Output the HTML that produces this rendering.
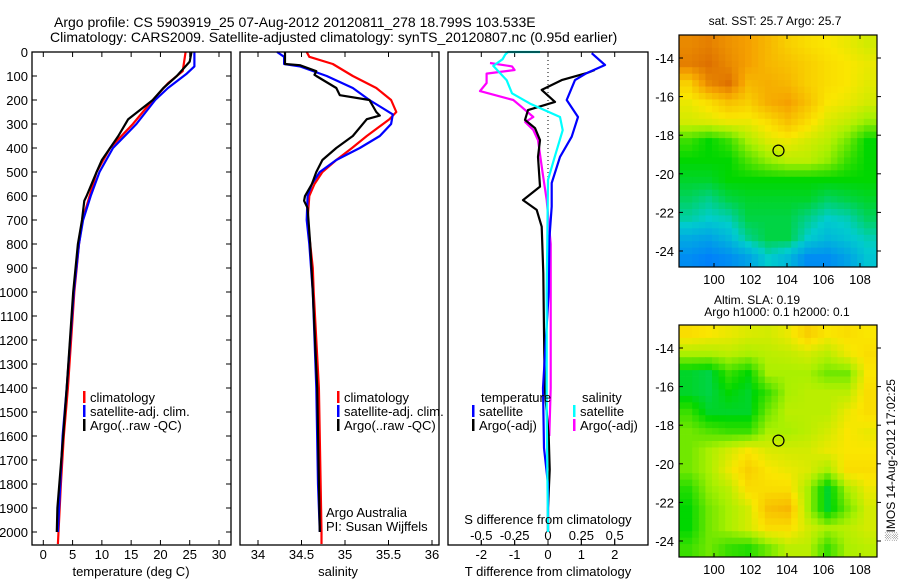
<!DOCTYPE html>
<html><head><meta charset="utf-8"><style>
html,body{margin:0;padding:0;background:#fff;}
svg{display:block;font-family:"Liberation Sans",sans-serif;}
</style></head><body>
<svg id="c" width="900" height="580" viewBox="0 0 900 580">
<text x="54" y="27" font-size="14">Argo profile: CS 5903919_25 07-Aug-2012 20120811_278 18.799S 103.533E</text>
<text x="50" y="42" font-size="14">Climatology: CARS2009. Satellite-adjusted climatology: synTS_20120807.nc (0.95d earlier)</text>
</svg>
<script>
// ---- data ----
const depthTicks=[0,100,200,300,400,500,600,700,800,900,1000,1100,1200,1300,1400,1500,1600,1700,1800,1900,2000];
const tempTicks=[0,5,10,15,20,25,30];
const salTicks=[34,34.5,35,35.5,36];
const dTTicks=[-2,-1,0,1,2];
const dSTicks=[-0.5,-0.25,0,0.25,0.5];
const dSTickLabels=["-0.5","-0.25","0","0.25","0.5"];
const tClimD=[0,80,130,200,300,400,500,600,700,800,900,1000,1400,1600,1800,2000,2050];
const tClimV=[24.3,23.8,21.3,18.7,15.3,11.4,9.1,7.9,6.7,6.1,5.7,5.3,4.2,3.5,3.0,2.6,2.5];
const tSatD=[0,60,90,150,200,300,400,500,600,700,800,1000,1400,1600,1800,2000];
const tSatV=[25.8,25.8,24.5,21.3,19.1,15.9,11.9,9.6,8.1,6.8,6.1,5.2,4.0,3.3,2.9,2.5];
const tArgD=[0,40,100,150,200,280,350,400,450,500,600,620,700,800,1000,1400,1600,1900,2000];
const tArgV=[25.3,25.0,22.8,20.5,18.7,14.5,12.8,11.4,10.0,9.1,7.4,7.0,6.6,5.9,5.1,4.0,3.4,2.4,2.3];
const sClimD=[0,20,50,100,150,200,250,280,350,400,450,500,550,600,700,900,1000,1400,2000,2050];
const sClimV=[34.56,34.59,34.86,35.09,35.36,35.53,35.59,35.51,35.25,35.08,34.90,34.74,34.65,34.59,34.57,34.63,34.64,34.70,34.73,34.73];
const sSatD=[0,20,50,60,100,150,200,260,300,350,400,450,500,550,600,700,800,1000,1400,1800,2000];
const sSatV=[34.22,34.30,34.30,34.48,34.79,35.09,35.28,35.55,35.53,35.40,35.17,34.90,34.71,34.62,34.57,34.56,34.59,34.63,34.67,34.69,34.71];
const sArgD=[0,50,55,80,95,100,150,180,200,250,265,280,350,400,450,500,550,600,620,650,800,1000,1400,2000];
const sArgV=[34.31,34.31,34.48,34.67,34.65,34.67,34.90,34.94,35.28,35.36,35.40,35.25,35.09,34.90,34.74,34.67,34.62,34.54,34.53,34.57,34.60,34.63,34.68,34.71];
const dTSatD=[5,54,88,117,200,271,353,437,546,644,783,1000,1400,1650,1800,2000];
const dTSatV=[1.31,1.71,1.16,0.81,0.56,0.90,0.71,0.36,0.11,0.11,0.04,0.02,-0.15,-0.12,0,0];
const dTArgD=[75,88,117,158,208,242,283,317,367,437,561,617,658,728,922,1400,1600,1740,1900,2000];
const dTArgV=[1.4,1.16,0.41,-0.19,0.21,-0.60,-0.69,-0.39,-0.24,-0.30,-0.24,-0.75,-0.34,-0.19,-0.14,-0.10,0.02,0.05,0,0];
const dSSatD=[0,0,10,30,58,117,172,215,271,326,437,533,1000,1500,2000];
const dSSatV=[-0.06,-0.30,-0.32,-0.34,-0.41,-0.31,-0.27,-0.135,0.09,0.11,0.05,0,-0.01,-0.01,0];
const dSArgD=[46,60,75,90,129,163,200,228,271,292,325,367,506,617,800,1000,1400,1600];
const dSArgV=[-0.435,-0.27,-0.25,-0.46,-0.46,-0.51,-0.26,-0.20,-0.11,-0.17,-0.11,-0.075,-0.04,-0.01,0.02,0.02,0.02,0.01];
const lons=[100,102,104,106,108];
const lats=[-14,-16,-18,-20,-22,-24];
const sstGrid=[
[.9,.92,.88,.85,.8,.75,.72,.7,.68,.65],
[.92,.95,.9,.85,.8,.78,.75,.72,.7,.68],
[.75,.9,.95,.8,.82,.8,.75,.72,.7,.67],
[.68,.72,.78,.75,.82,.85,.78,.7,.68,.65],
[.65,.66,.68,.68,.72,.78,.72,.66,.63,.58],
[.5,.45,.5,.6,.66,.68,.65,.62,.55,.45],
[.45,.45,.45,.52,.58,.62,.62,.58,.5,.45],
[.42,.42,.45,.45,.45,.45,.45,.45,.45,.45],
[.38,.35,.4,.42,.42,.42,.42,.38,.4,.42],
[.33,.3,.32,.4,.4,.4,.35,.3,.32,.38],
[.22,.2,.25,.35,.4,.4,.3,.25,.28,.32],
[.15,.12,.15,.2,.3,.25,.15,.15,.2,.28]];
const slaGrid=[
[.72,.7,.68,.66,.65,.68,.75,.7,.72,.7],
[.6,.6,.62,.6,.62,.63,.65,.62,.68,.72],
[.42,.4,.5,.45,.6,.6,.6,.55,.55,.7],
[.42,.4,.45,.42,.5,.6,.62,.62,.62,.72],
[.5,.42,.42,.42,.55,.62,.62,.62,.68,.72],
[.55,.52,.5,.5,.6,.6,.62,.65,.7,.68],
[.55,.6,.65,.7,.66,.65,.65,.68,.7,.7],
[.55,.6,.68,.75,.7,.68,.66,.6,.72,.72],
[.48,.58,.62,.72,.72,.72,.6,.42,.6,.68],
[.45,.55,.6,.65,.78,.8,.6,.42,.55,.65],
[.45,.55,.6,.65,.72,.72,.65,.6,.62,.65],
[.5,.55,.5,.48,.55,.62,.62,.5,.6,.62]];
const floatLon=103.533, floatLat=-18.799;

// ---- drawing ----
const svg=document.getElementById('c');
const NS='http://www.w3.org/2000/svg';
function mk(tag,attrs,parent){const e=document.createElementNS(NS,tag);for(const k in attrs)e.setAttribute(k,attrs[k]);(parent||svg).appendChild(e);return e;}
const Y0=52, PB=545, D0=0, D1=(PB-Y0)/0.24;
function yD(d){return Y0+(d-D0)*(PB-Y0)/(D1-D0);}
function lin(a,b,p,q){return v=>p+(v-a)*(q-p)/(b-a);}
const P1={l:32,r:231}, P2={l:240,r:439}, P3={l:448,r:648};
const xT=lin(0,30,43.3,219), xS=lin(34,36,258,432), xDT=lin(0,2,548,614.7), xDS=lin(0,0.5,548,614.7);

function frame(P,name){
  const r=mk('rect',{x:P.l,y:Y0,width:P.r-P.l,height:PB-Y0,fill:'none',stroke:'#000','stroke-width':1.3});
  
  
}
function line(D,V,xf,color,name,w){
  let d='';for(let i=0;i<D.length;i++){d+=(i?'L':'M')+xf(V[i]).toFixed(1)+','+yD(D[i]).toFixed(1);}
  const p=mk('path',{d:d,fill:'none',stroke:color,'stroke-width':w||2.2,'stroke-linejoin':'round'});
  
  
}
function txt(x,y,s,attrs,name){
  const t=mk('text',Object.assign({x:x,y:y,'font-size':13},attrs||{}));t.textContent=s;
  
  
  return t;
}
depthTicks.forEach(d=>{
  const y=yD(d);
  mk('line',{x1:P1.l,x2:P1.l+5,y1:y,y2:y,stroke:'#000'});
  mk('line',{x1:P1.r,x2:P1.r-5,y1:y,y2:y,stroke:'#000'});
  txt(28,y+5,String(d),{'text-anchor':'end'},'depth-tick-label');
});
tempTicks.forEach(v=>{const x=xT(v);
  mk('line',{x1:x,x2:x,y1:PB,y2:PB-5,stroke:'#000'});mk('line',{x1:x,x2:x,y1:Y0,y2:Y0+5,stroke:'#000'});
  txt(x,559,String(v),{'text-anchor':'middle'},'temperature-tick-label');});
salTicks.forEach((v,i)=>{const x=xS(v);
  mk('line',{x1:x,x2:x,y1:PB,y2:PB-5,stroke:'#000'});mk('line',{x1:x,x2:x,y1:Y0,y2:Y0+5,stroke:'#000'});
  txt(x,559,String(v),{'text-anchor':'middle'},'salinity-tick-label');});
dTTicks.forEach(v=>{const x=xDT(v);
  mk('line',{x1:x,x2:x,y1:PB,y2:PB-5,stroke:'#000'});mk('line',{x1:x,x2:x,y1:Y0,y2:Y0+5,stroke:'#000'});
  txt(x,559,String(v),{'text-anchor':'middle'},'t-difference-tick-label');});
dSTicks.forEach((v,i)=>{const x=xDS(v);
  mk('line',{x1:x,x2:x,y1:PB,y2:PB-5,stroke:'#000'});
  txt(x,540,dSTickLabels[i],{'text-anchor':'middle'},'s-difference-tick-label');});
const z=mk('line',{x1:xDT(0),x2:xDT(0),y1:Y0,y2:yD(560),stroke:'#000','stroke-dasharray':'1,3'});


line(tClimD,tClimV,xT,'#f00','temp-climatology-line');
line(tSatD,tSatV,xT,'#00f','temp-satellite-line');
line(tArgD,tArgV,xT,'#000','temp-argo-line');
line(sClimD,sClimV,xS,'#f00','sal-climatology-line');
line(sSatD,sSatV,xS,'#00f','sal-satellite-line');
line(sArgD,sArgV,xS,'#000','sal-argo-line');
line(dSArgD,dSArgV,xDS,'#f0f','dsal-argo-line');
line(dTArgD,dTArgV,xDT,'#000','dtemp-argo-line');
line(dTSatD,dTSatV,xDT,'#00f','dtemp-satellite-line');
line(dSSatD,dSSatV,xDS,'#0ff','dsal-satellite-line');
frame(P1,'temperature-panel');frame(P2,'salinity-panel');frame(P3,'difference-panel');
txt(131,576,'temperature (deg C)',{'text-anchor':'middle'},'temperature-axis-title');
txt(338,576,'salinity',{'text-anchor':'middle'},'salinity-axis-title');
txt(548,576,'T difference from climatology',{'text-anchor':'middle'},'t-difference-axis-title');
txt(548,524,'S difference from climatology',{'text-anchor':'middle'},'s-difference-axis-title');
function leg(x,y,c,s,name){const m=mk('rect',{x:x,y:y-11,width:2.5,height:12,fill:c});
  
  
  txt(x+7,y,s,{},name);}
leg(83,402,'#f00','climatology','legend-climatology');
leg(83,416,'#00f','satellite-adj. clim.','legend-satellite');
leg(83,430,'#000','Argo(..raw -QC)','legend-argo');
leg(337,402,'#f00','climatology','legend-climatology-2');
leg(337,416,'#00f','satellite-adj. clim.','legend-satellite-2');
leg(337,430,'#000','Argo(..raw -QC)','legend-argo-2');
txt(481,402,'temperature',{},'legend-temperature-heading');
txt(582,402,'salinity',{},'legend-salinity-heading');
leg(472,416,'#00f','satellite','legend-t-satellite');
leg(472,430,'#000','Argo(-adj)','legend-t-argo');
leg(573,416,'#0ff','satellite','legend-s-satellite');
leg(573,430,'#f0f','Argo(-adj)','legend-s-argo');
txt(326,517,'Argo Australia',{},'credit-argo-australia');
txt(326,531,'PI: Susan Wijffels',{},'credit-pi');
function cmap(v){
  const stops=[[0.1,[0,120,255]],[0.3,[0,205,205]],[0.45,[0,215,0]],[0.6,[170,240,0]],[0.7,[250,230,0]],[0.85,[245,160,0]],[1,[210,90,0]]];
  if(v<=stops[0][0])return 'rgb('+stops[0][1]+')';
  for(let i=1;i<stops.length;i++){if(v<=stops[i][0]){const a=stops[i-1],b=stops[i],t=(v-a[0])/(b[0]-a[0]);
    return 'rgb('+a[1].map((c,k)=>Math.round(c+(b[1][k]-c)*t)).join(',')+')';}}
  return 'rgb(210,90,0)';
}
function sample(grid,fi,fj){
  const nr=grid.length,nc=grid[0].length;
  fi=Math.max(0,Math.min(nr-1,fi));fj=Math.max(0,Math.min(nc-1,fj));
  const i0=Math.floor(fi),j0=Math.floor(fj),i1=Math.min(nr-1,i0+1),j1=Math.min(nc-1,j0+1),a=fi-i0,b=fj-j0;
  return grid[i0][j0]*(1-a)*(1-b)+grid[i1][j0]*a*(1-b)+grid[i0][j1]*(1-a)*b+grid[i1][j1]*a*b;
}
function map(top,grid,name){
  const L=679,R=877,T=top,B=top+232;
  const xL=lin(100,108,714,860), yL=lin(-14,-24,top+23,top+216);
  const g=mk('g',{});
  const nr=grid.length,nc=grid[0].length, S=3, cw=(R-L)/(nc*S), ch=(B-T)/(nr*S);
  for(let i=0;i<nr*S;i++)for(let j=0;j<nc*S;j++){
    const v=sample(grid,(i+0.5)/S-0.5,(j+0.5)/S-0.5);
    mk('rect',{x:(L+j*cw).toFixed(2),y:(T+i*ch).toFixed(2),width:(cw+0.4).toFixed(2),height:(ch+0.4).toFixed(2),fill:cmap(v)},g);
  }
  mk('rect',{x:L,y:T,width:R-L,height:B-T,fill:'none',stroke:'#000','stroke-width':1.2},g);
  lons.forEach(v=>{const x=xL(v);mk('line',{x1:x,x2:x,y1:T,y2:T+4,stroke:'#000'},g);mk('line',{x1:x,x2:x,y1:B,y2:B-4,stroke:'#000'},g);
    txt(x,B+17,String(v),{'text-anchor':'middle'},name+'-lon-label');});
  lats.forEach(v=>{const y=yL(v);mk('line',{x1:L,x2:L+4,y1:y,y2:y,stroke:'#000'},g);mk('line',{x1:R,x2:R+4,y1:y,y2:y,stroke:'#000'},g);
    txt(L-5,y+5,String(v),{'text-anchor':'end'},name+'-lat-label');});
  const c=mk('circle',{cx:xL(floatLon),cy:yL(floatLat),r:5.5,fill:'none',stroke:'#000','stroke-width':1.2});
  
  
}
map(35,sstGrid,'sst-map');
map(325,slaGrid,'sla-map');
txt(775,25,'sat. SST: 25.7 Argo: 25.7',{'text-anchor':'middle','font-size':12},'sst-map-title');
txt(757,304,'Altim. SLA: 0.19',{'text-anchor':'middle','font-size':12},'sla-map-title');
txt(777,316,'Argo h1000: 0.1 h2000: 0.1',{'text-anchor':'middle','font-size':12},'sla-map-subtitle');
txt(0,0,'\u2591IMOS 14-Aug-2012 17:02:25',{'text-anchor':'middle','font-size':12,transform:'translate(895,460) rotate(-90)'},'imos-timestamp');
</script>
</body></html>
